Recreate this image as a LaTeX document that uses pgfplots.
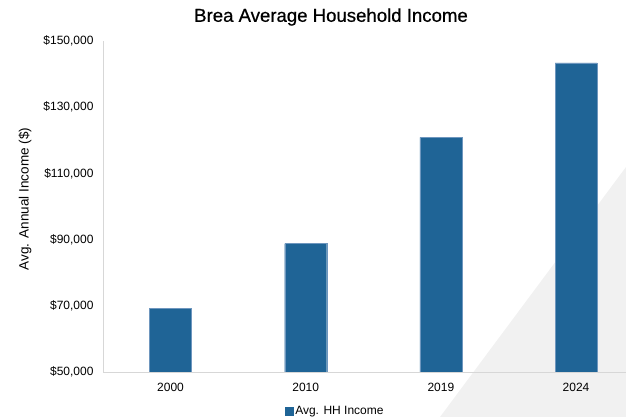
\documentclass[border=0pt]{standalone}
\usepackage{pgfplots}
\pgfplotsset{compat=1.18}
\usepackage{fontspec}
\setmainfont{Liberation Sans}
\newfontfamily\titlefont[FakeBold=0.6]{Liberation Sans}
\definecolor{barblue}{RGB}{31,100,150}
\definecolor{baredge}{RGB}{110,150,190}
\definecolor{axisgray}{RGB}{215,215,215}
\definecolor{trigray}{RGB}{241,241,241}
\begin{document}
\begin{tikzpicture}[x=1pt,y=1pt]
\path[use as bounding box] (0,0) rectangle (626,417);
\fill[trigray] (626,250) -- (626,0) -- (440,0) -- cycle;
\node[font=\titlefont\fontsize{18.6}{21}\selectfont] at (331,400) {Brea Average Household Income};
\node[rotate=90, font=\fontsize{13.5}{15}\selectfont] at (25,218) {Avg. Annual Income (\$)};
\begin{axis}[
  at={(103pt,45pt)}, anchor=south west,
  scale only axis, width=523pt, height=331pt,
  xmin=-0.5, xmax=3.37, ymin=50000, ymax=150000,
  axis lines*=left,
  axis line style={draw=axisgray, line width=0.8pt, -},
  major tick length=0pt,
  xtick={0,1,2,3}, xticklabels={2000,2010,2019,2024},
  ytick={50000,70000,...,150000},
  scaled y ticks=false,
  yticklabel={\$\pgfmathprintnumber[fixed,precision=0,1000 sep={,}]{\tick}},
  /pgf/number format/assume math mode=true,
  tick label style={font=\fontsize{12}{14}\selectfont},
  xticklabel style={yshift=-8pt},
  yticklabel style={xshift=-6pt},
  legend style={at={(0.444,-0.117)}, anchor=center, draw=none, fill=none,
    font=\fontsize{12}{14}\selectfont, inner sep=0pt},
  legend image code/.code={\fill[barblue] (0pt,-4pt) rectangle (8pt,4pt);},
]
\addplot[ybar, bar width=42pt, fill=barblue, draw=baredge, line width=0.4pt]
  coordinates {(0,69300) (1,88800) (2,120900) (3,143400)};
\addlegendentry{Avg. HH Income}
\end{axis}
\end{tikzpicture}
\end{document}
